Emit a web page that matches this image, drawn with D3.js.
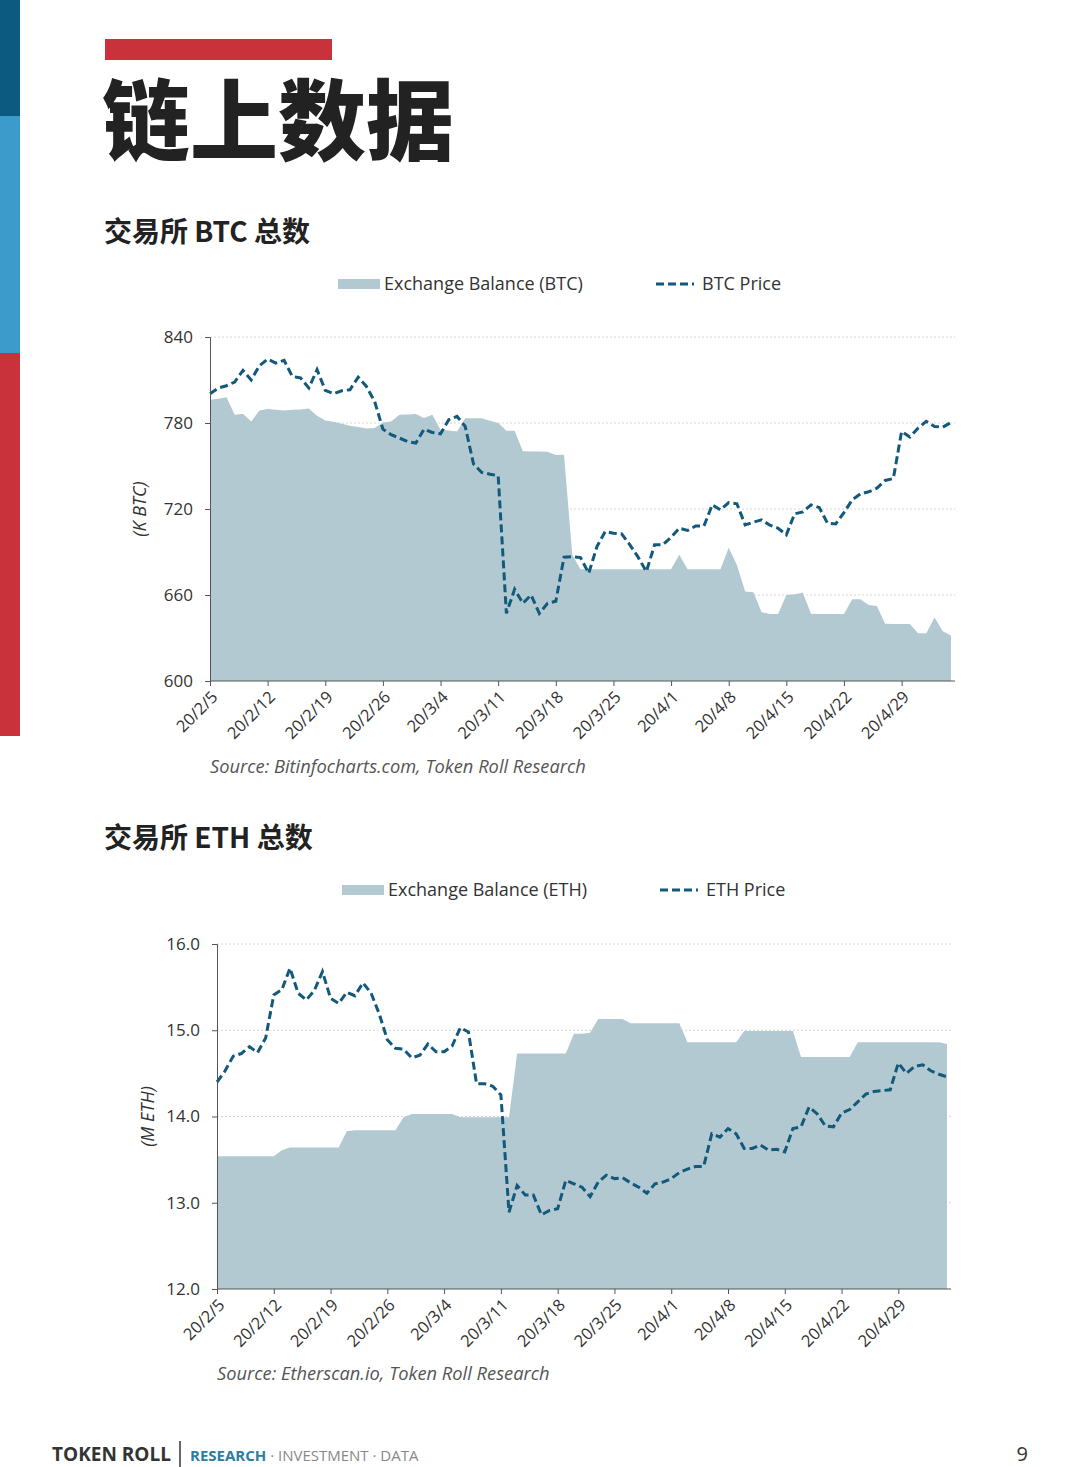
<!DOCTYPE html>
<html>
<head>
<meta charset="utf-8">
<script src="https://cdn.jsdelivr.net/npm/d3@7"></script>
<style>
  body { margin: 0; background: #fff; }
  svg text { font-family: "Open Sans", "Noto Sans", sans-serif; }
</style>
</head>
<body>
<svg width="1080" height="1467"></svg>
<script>
// daily data 20/2/5 .. 20/5/5 (91 days)
var startDate = '2020-02-05';
var tickLabels = ['2020-02-05','2020-02-12','2020-02-19','2020-02-26','2020-03-04','2020-03-11',
  '2020-03-18','2020-03-25','2020-04-01','2020-04-08','2020-04-15','2020-04-22','2020-04-29'];

// BTC exchange balance (K BTC)
var btcBalance = [796.2,797,797.9,785.8,786.5,781,788.8,789.7,789.2,788.8,
  789.2,789.5,790.2,785,781.8,780.8,779.5,778,777.2,776.2,
  776.5,780.4,781,785.8,786,786.2,783.5,785.8,775.3,774.7,
  774.1,783.4,783.4,783.4,781.6,780,774.6,774.6,760.3,760.1,
  760.1,760,757.6,757.8,688,678,678,678,678,678,
  678,678,678,678,678,678,678,688,678,678,
  678,678,678,693,681,662.4,661.9,648,646.8,646.8,
  660,660.5,661.5,647,646.8,646.8,646.8,646.8,657,657,
  653,652.4,640,639.8,639.8,639.8,633.3,633.3,644.3,634.7,631.7];
// BTC price, plotted against the left axis (in axis units)
var btcPrice = [800.4,804.4,806,808.6,816.7,810,820,824.6,821.8,823.7,
  812.5,811.4,804.4,817.2,802.8,800.4,802.5,803.2,812,805.5,
  795,775.7,771.8,769.5,767.1,766,775.7,773.4,772.5,782.3,
  784.6,777.6,751.5,745.5,744.3,743.2,647.2,664,654.2,660,
  647.2,654.2,655.6,686.4,686.8,686.1,675.2,693.8,704.3,703.1,
  702.6,695,686.4,676.3,695,695,700.3,706.6,705,708.2,
  708.2,722.9,719.4,724.5,723.6,708.9,710.8,712.4,708.7,706.6,
  702,716.6,718,722.9,721,710.1,709.6,717.5,726.4,730.6,
  732,734.5,739.9,741.3,774.1,770.2,776.4,781.1,777.6,777.1,780.4];

// ETH exchange balance (M ETH)
var ethBalance = [13.54,13.54,13.54,13.54,13.54,13.54,13.54,13.54,13.61,13.64,
  13.64,13.64,13.64,13.64,13.64,13.64,13.83,13.84,13.84,13.84,
  13.84,13.84,13.84,13.99,14.03,14.03,14.03,14.03,14.03,14.03,
  13.99,13.99,13.99,13.99,13.99,13.99,13.99,14.73,14.73,14.73,
  14.73,14.73,14.73,14.73,14.96,14.96,14.97,15.13,15.13,15.13,
  15.13,15.08,15.08,15.08,15.08,15.08,15.08,15.08,14.86,14.86,
  14.86,14.86,14.86,14.86,14.86,14.99,14.99,14.99,14.99,14.99,
  14.99,14.99,14.69,14.69,14.69,14.69,14.69,14.69,14.69,14.86,
  14.86,14.86,14.86,14.86,14.86,14.86,14.86,14.86,14.86,14.86,14.84];
// ETH price, plotted against the left axis
var ethPrice = [14.40,14.53,14.70,14.73,14.81,14.74,14.91,15.41,15.47,15.72,
  15.43,15.35,15.46,15.68,15.37,15.31,15.44,15.40,15.55,15.43,
  15.19,14.89,14.79,14.78,14.68,14.71,14.84,14.75,14.75,14.82,
  15.03,14.98,14.38,14.38,14.35,14.25,12.89,13.20,13.09,13.09,
  12.86,12.91,12.93,13.26,13.22,13.18,13.07,13.24,13.32,13.28,
  13.29,13.23,13.18,13.11,13.22,13.24,13.28,13.35,13.39,13.42,
  13.42,13.80,13.76,13.86,13.80,13.63,13.63,13.67,13.61,13.62,
  13.59,13.86,13.88,14.11,14.03,13.89,13.88,14.04,14.08,14.17,
  14.26,14.29,14.30,14.31,14.62,14.50,14.58,14.60,14.53,14.49,14.46];

var btcTicks = [600, 660, 720, 780, 840];
var ethTicks = [12, 13, 14, 15, 16];

var areaColor = '#b2c9d2', lineColor = '#12597b';
var parse = d3.timeParse('%Y-%m-%d');
var fmt = d3.timeFormat('%y/%-m/%-d');
var t0 = parse(startDate);
function dayAt(i) { return d3.timeDay.offset(t0, i); }

var svg = d3.select('svg');

// side stripes
svg.append('rect').attr('x', 0).attr('y', 0).attr('width', 20).attr('height', 116).attr('fill', '#0c5a80');
svg.append('rect').attr('x', 0).attr('y', 116).attr('width', 20).attr('height', 237).attr('fill', '#3d9bcc');
svg.append('rect').attr('x', 0).attr('y', 353).attr('width', 20).attr('height', 383).attr('fill', '#c9323a');

// heading
svg.append('rect').attr('x', 105).attr('y', 39).attr('width', 227).attr('height', 21).attr('fill', '#c9323a');
svg.append('text').attr('x', 102).attr('y', 153)
  .style('font-family', '"Noto Sans CJK SC"').style('font-weight', 900)
  .style('font-size', '88px').attr('fill', '#222').text('链上数据');

function drawChart(o) {
  var x = d3.scaleTime().domain([t0, dayAt(90)]).range([o.left, o.right]);
  var y = d3.scaleLinear().domain([o.ticks[0], o.ticks[o.ticks.length - 1]]).range([o.bottom, o.top]);
  var g = svg.append('g');

  g.append('text').attr('x', 104).attr('y', o.titleY)
    .style('font-family', '"Noto Sans CJK SC"').style('font-weight', 700)
    .style('font-size', '28px').attr('fill', '#222').text(o.title);

  // legend
  g.append('rect').attr('x', o.legX).attr('y', o.legY - 5).attr('width', 42).attr('height', 10).attr('fill', areaColor);
  g.append('text').attr('x', o.legX + 46).attr('y', o.legY + 6).style('font-size', '18px').attr('fill', '#333').text(o.legA);
  g.append('line').attr('x1', o.legX + 318).attr('x2', o.legX + 356).attr('y1', o.legY).attr('y2', o.legY)
    .attr('stroke', lineColor).attr('stroke-width', 3).attr('stroke-dasharray', '8,4');
  g.append('text').attr('x', o.legX + 364).attr('y', o.legY + 6).style('font-size', '18px').attr('fill', '#333').text(o.legB);

  // grid
  g.selectAll('.grid').data(o.ticks.slice(1)).enter().append('line')
    .attr('x1', o.left).attr('x2', o.right + 4)
    .attr('y1', function(d) { return y(d); }).attr('y2', function(d) { return y(d); })
    .attr('stroke', '#d6d6d6').attr('stroke-dasharray', '2,2');

  var area = d3.area().x(function(d, i) { return x(dayAt(i)); })
    .y0(o.bottom).y1(function(d) { return y(d); });
  g.append('path').datum(o.balance).attr('d', area).attr('fill', areaColor);

  var line = d3.line().x(function(d, i) { return x(dayAt(i)); }).y(function(d) { return y(d); });
  g.append('path').datum(o.price).attr('d', line).attr('fill', 'none')
    .attr('stroke', lineColor).attr('stroke-width', 3).attr('stroke-dasharray', '8,4');

  // axes
  var yAxis = g.append('g').attr('transform', 'translate(' + o.left + ',0)')
    .call(d3.axisLeft(y).tickValues(o.ticks).tickFormat(o.yFmt).tickSize(5).tickPadding(12));
  yAxis.select('.domain').attr('stroke', '#555');
  yAxis.selectAll('line').attr('stroke', '#555');
  yAxis.selectAll('text').style('font-size', '17px').attr('fill', '#333');

  var xAxis = g.append('g').attr('transform', 'translate(0,' + o.bottom + ')')
    .call(d3.axisBottom(x).tickValues(tickLabels.map(parse)).tickFormat(fmt).tickSize(5).tickSizeOuter(0));
  xAxis.select('.domain').attr('stroke', '#555').attr('d', 'M' + o.left + ',0H' + (o.right + 4));
  xAxis.selectAll('line').attr('stroke', '#555');
  xAxis.selectAll('text').style('font-size', '16.5px').attr('fill', '#333')
    .attr('text-anchor', 'end').attr('y', 0).attr('dy', '0.35em')
    .attr('transform', 'translate(4,13) rotate(-45)');

  g.append('text').attr('transform', 'translate(' + o.labX + ',' + ((o.top + o.bottom) / 2) + ') rotate(-90)')
    .attr('text-anchor', 'middle').style('font-style', 'italic').style('font-size', '18px')
    .attr('fill', '#333').text(o.unit);

  g.append('text').attr('x', o.left).attr('y', o.srcY).style('font-style', 'italic')
    .style('font-size', '18.3px').attr('fill', '#555').text(o.source);
}

drawChart({
  title: '交易所 BTC 总数', titleY: 242, legX: 338, legY: 284,
  legA: 'Exchange Balance (BTC)', legB: 'BTC Price',
  left: 210, right: 951, top: 337, bottom: 681, ticks: btcTicks, yFmt: d3.format('d'),
  balance: btcBalance, price: btcPrice, unit: '(K BTC)', labX: 146,
  source: 'Source: Bitinfocharts.com, Token Roll Research', srcY: 773
});

drawChart({
  title: '交易所 ETH 总数', titleY: 848, legX: 342, legY: 890,
  legA: 'Exchange Balance (ETH)', legB: 'ETH Price',
  left: 217, right: 947, top: 944, bottom: 1289, ticks: ethTicks, yFmt: d3.format('.1f'),
  balance: ethBalance, price: ethPrice, unit: '(M ETH)', labX: 154,
  source: 'Source: Etherscan.io, Token Roll Research', srcY: 1380
});

// footer
svg.append('text').attr('x', 52).attr('y', 1461).style('font-weight', 700).style('font-size', '19px')
  .attr('fill', '#333').text('TOKEN ROLL');
svg.append('line').attr('x1', 180).attr('x2', 180).attr('y1', 1441).attr('y2', 1467)
  .attr('stroke', '#333').attr('stroke-width', 1.5);
var ft = svg.append('text').attr('x', 190).attr('y', 1461).style('font-size', '15px');
ft.append('tspan').style('font-weight', 700).attr('fill', '#2a7ea3').text('RESEARCH');
ft.append('tspan').attr('fill', '#888').text(' · INVESTMENT · DATA');
svg.append('text').attr('x', 1028).attr('y', 1461).attr('text-anchor', 'end').style('font-size', '20px')
  .attr('fill', '#333').text('9');
</script>
</body>
</html>
